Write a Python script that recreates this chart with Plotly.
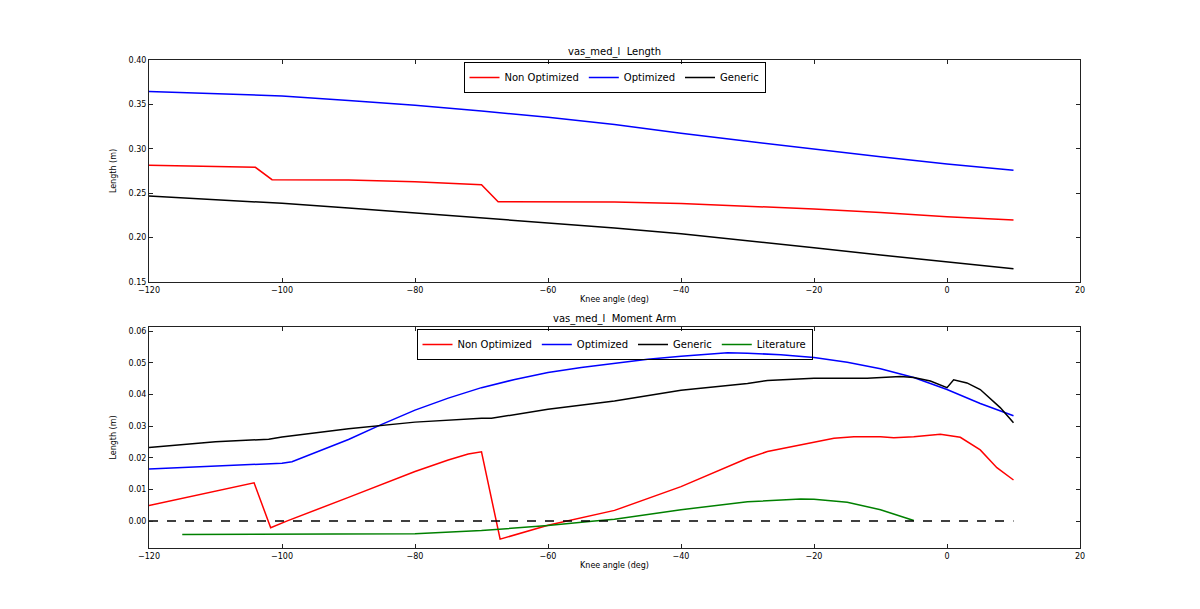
import plotly.graph_objects as go

# ---- Top panel: muscle length ----
non_len_x = [-120, -110, -104, -101.5, -90, -80, -70, -67.5, -60, -50, -40, -30, -20, -10, 0, 10]
non_len = [0.2814, 0.2805, 0.2792, 0.2653, 0.2648, 0.2630, 0.2596, 0.2405, 0.2406, 0.2400, 0.2385, 0.2356, 0.2322, 0.2283, 0.2236, 0.2198]

opt_len_x = [-120, -110, -100, -90, -80, -70, -60, -50, -40, -30, -20, -10, 0, 10]
opt_len = [0.3645, 0.3620, 0.3595, 0.3545, 0.3490, 0.3425, 0.3355, 0.3275, 0.3175, 0.3085, 0.2994, 0.2910, 0.2829, 0.2758]

gen_len_x = [-120, -110, -100, -90, -80, -70, -60, -50, -40, -30, -20, -10, 0, 10]
gen_len = [0.2469, 0.2429, 0.2386, 0.2335, 0.2280, 0.2226, 0.2172, 0.2109, 0.2044, 0.1969, 0.1886, 0.1805, 0.1727, 0.1650]

# ---- Bottom panel: moment arm ----
non_ma_x = [-120, -104.2, -101.7, -99.3, -90, -80, -75, -72, -70, -67.2, -60, -50, -40, -30, -27, -20, -17, -14, -10, -8, -5, -1, 2, 5, 7.5, 10]
non_ma = [0.0049, 0.0121, -0.0021, 0.0, 0.0075, 0.0157, 0.0193, 0.0212, 0.0219, -0.0057, -0.0013, 0.0034, 0.0109, 0.0199, 0.0220, 0.0248, 0.0262, 0.0267, 0.0267, 0.0264, 0.0267, 0.0275, 0.0265, 0.0225, 0.0169, 0.0130]

opt_ma_x = [-120, -110, -100, -98.5, -95, -90, -85, -80, -75, -70, -65, -60, -55, -50, -45, -40, -33, -30, -25, -20, -15, -10, -5, 0, 5, 10]
opt_ma = [0.0165, 0.0174, 0.0183, 0.0188, 0.0216, 0.0258, 0.0306, 0.0351, 0.0389, 0.0422, 0.0448, 0.0470, 0.0486, 0.0500, 0.0512, 0.0521, 0.0532, 0.0531, 0.0526, 0.0517, 0.0502, 0.0482, 0.0454, 0.0416, 0.0372, 0.0333]

gen_ma_x = [-120, -110, -102, -100, -90, -80, -70, -68.5, -60, -50, -40, -30, -27, -20, -12, -7, -5, -2.5, 0, 1, 3, 5, 8, 10]
gen_ma = [0.0233, 0.0251, 0.0259, 0.0266, 0.0292, 0.0313, 0.0325, 0.0325, 0.0354, 0.0380, 0.0414, 0.0435, 0.0445, 0.0452, 0.0452, 0.0457, 0.0454, 0.0443, 0.0422, 0.0447, 0.0437, 0.0416, 0.0359, 0.0311]

lit_x = [-115, -100, -90, -80, -70, -60, -53, -50, -40, -30, -22, -20, -15, -10, -5]
lit = [-0.0042, -0.0042, -0.0042, -0.0040, -0.0030, -0.0014, 0.0, 0.0006, 0.0036, 0.0061, 0.0070, 0.0069, 0.0060, 0.0036, 0.0002]

zero_x = [-120, 10]
zero_y = [0, 0]

names = ["Non Optimized", "Optimized", "Generic", "Literature"]
colors = ["#ff0000", "#0000ff", "#000000", "#008000"]

FONT = "DejaVu Sans"
fig = go.Figure()

top = [(non_len_x, non_len), (opt_len_x, opt_len), (gen_len_x, gen_len)]
for i, (xs, ys) in enumerate(top):
    fig.add_trace(go.Scatter(x=xs, y=ys, mode="lines", name=names[i],
                             line=dict(color=colors[i], width=1.5),
                             xaxis="x", yaxis="y", legend="legend"))

bot = [(non_ma_x, non_ma), (opt_ma_x, opt_ma), (gen_ma_x, gen_ma), (lit_x, lit)]
for i, (xs, ys) in enumerate(bot):
    fig.add_trace(go.Scatter(x=xs, y=ys, mode="lines", name=names[i],
                             line=dict(color=colors[i], width=1.5),
                             xaxis="x2", yaxis="y2", legend="legend2"))

fig.add_trace(go.Scatter(x=zero_x, y=zero_y, mode="lines", showlegend=False,
                         line=dict(color="black", width=1.5, dash="dash"),
                         xaxis="x2", yaxis="y2"))

axis_common = dict(showline=True, linecolor="#222222", linewidth=1, mirror="allticks",
                   ticks="inside", ticklen=4, tickcolor="#222222", showgrid=False,
                   zeroline=False, tickfont=dict(family=FONT, size=8, color="black"))

fig.update_layout(
    width=1200, height=609,
    margin=dict(l=149, r=120, t=60, b=61),
    paper_bgcolor="white", plot_bgcolor="white",
    font=dict(family=FONT, color="black"),
    xaxis=dict(domain=[0, 1], range=[-120, 20], dtick=20, anchor="y",
               title=dict(text="Knee angle (deg)", font=dict(size=8), standoff=2), **axis_common),
    yaxis=dict(domain=[0.545, 1], range=[0.15, 0.40], dtick=0.05, tickformat=".2f", anchor="x",
               title=dict(text="Length (m)", font=dict(size=8), standoff=10), **axis_common),
    xaxis2=dict(domain=[0, 1], range=[-120, 20], dtick=20, anchor="y2",
                title=dict(text="Knee angle (deg)", font=dict(size=8), standoff=2), **axis_common),
    yaxis2=dict(domain=[0, 0.453], range=[-0.0085, 0.0614], tickvals=[0, 0.01, 0.02, 0.03, 0.04, 0.05, 0.06],
                tickformat=".2f", anchor="x2",
                title=dict(text="Length (m)", font=dict(size=8), standoff=10), **axis_common),
    legend=dict(orientation="h", x=0.5, xanchor="center", y=0.996, yanchor="top",
                bordercolor="black", borderwidth=1, bgcolor="rgba(255,255,255,0)",
                font=dict(family=FONT, size=10), tracegroupgap=0),
    legend2=dict(orientation="h", x=0.5, xanchor="center", y=0.4488, yanchor="top",
                 bordercolor="black", borderwidth=1, bgcolor="rgba(255,255,255,0)",
                 font=dict(family=FONT, size=10), tracegroupgap=0),
    annotations=[
        dict(text="vas_med_l  Length", x=0.5, y=1, xref="paper", yref="paper",
             xanchor="center", yanchor="bottom", yshift=0, showarrow=False,
             font=dict(family=FONT, size=10, color="black")),
        dict(text="vas_med_l  Moment Arm", x=0.5, y=0.453, xref="paper", yref="paper",
             xanchor="center", yanchor="bottom", yshift=0, showarrow=False,
             font=dict(family=FONT, size=10, color="black")),
    ],
)

fig.write_html("out.html")
